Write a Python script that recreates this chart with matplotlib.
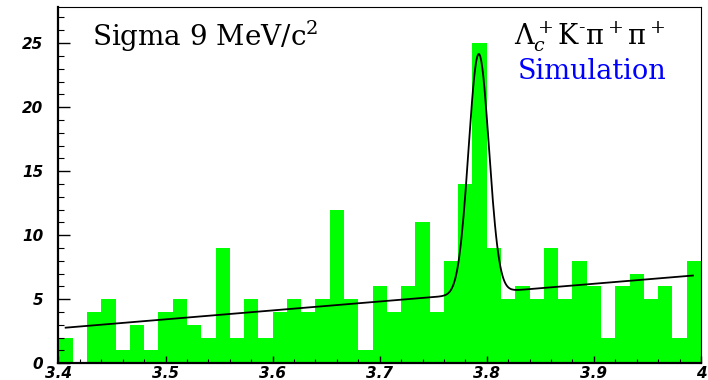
import numpy as np
import matplotlib
matplotlib.use("Agg")
import matplotlib.pyplot as plt
from matplotlib.font_manager import FontProperties

# histogram (45 bins between 3.4 and 4.0 GeV)
counts = [2, 0, 4, 5, 1, 3, 1, 4, 5, 3, 2, 9, 2, 5, 2, 4, 5, 4, 5, 12,
          5, 1, 6, 4, 6, 11, 4, 8, 14, 25, 9, 5, 6, 5, 9, 5, 8, 6, 2, 6,
          7, 5, 6, 2, 8]
x_lo, x_hi = 3.4, 4.0

# fit: linear background + gaussian
fit_lo, fit_hi = 3.4067, 3.9925
bkg_at_lo = 2.78
bkg_slope = 6.95
peak_amp = 18.7
peak_mean = 3.7925
peak_sigma = 0.0095

xtick_vals = [3.4, 3.5, 3.6, 3.7, 3.8, 3.9, 4.0]
xtick_text = ["3.4", "3.5", "3.6", "3.7", "3.8", "3.9", "4"]
ytick_vals = [0, 5, 10, 15, 20, 25]

plt.rcParams["mathtext.fontset"] = "dejavuserif"

fig = plt.figure(figsize=(7.08, 3.80), dpi=100)
ax = fig.add_axes([0.0826, 0.044, 0.9074, 0.937])

edges = np.linspace(x_lo, x_hi, len(counts) + 1)
ax.bar(edges[:-1], counts, width=np.diff(edges), align="edge",
       color="#00ff00", edgecolor="none", zorder=1)

xf = np.linspace(fit_lo, fit_hi, 600)
yf = bkg_at_lo + bkg_slope * (xf - fit_lo) + \
    peak_amp * np.exp(-0.5 * ((xf - peak_mean) / peak_sigma) ** 2)
ax.plot(xf, yf, color="black", lw=1.3, zorder=3)

ax.set_xlim(x_lo, x_hi)
ax.set_ylim(0, 27.8)

ax.set_xticks(xtick_vals)
ax.set_xticklabels(xtick_text)
ax.set_xticks(np.arange(3.4, 4.001, 0.02), minor=True)
ax.set_yticks(ytick_vals)
ax.set_yticks(np.arange(0, 28, 1), minor=True)

tick_font = FontProperties(family="DejaVu Sans", weight="bold", style="oblique", size=11)
for lab in ax.get_xticklabels() + ax.get_yticklabels():
    lab.set_fontproperties(tick_font)

ax.tick_params(axis="y", which="major", direction="in", length=8.6, width=1, pad=11)
ax.tick_params(axis="y", which="minor", direction="in", length=4.3, width=0.8)
ax.tick_params(axis="x", which="major", direction="in", length=5, width=1, pad=2)
ax.tick_params(axis="x", which="minor", direction="in", length=3, width=0.8)

for side in ["left", "bottom"]:
    ax.spines[side].set_linewidth(1.6)
for side in ["top", "right"]:
    ax.spines[side].set_linewidth(0.8)
for sp in ax.spines.values():
    sp.set_zorder(5)

ax.text(91.7, 380 - 46, r"Sigma 9 MeV/c$^2$", transform=None,
        family="DejaVu Serif", fontsize=20, va="baseline", ha="left")
ax.text(665, 380 - 45, r"Λ$_c^+$K$^{\text{-}}$π$^+$π$^+$", transform=None,
        family="DejaVu Serif", fontsize=19.5, va="baseline", ha="right")
ax.text(666.7, 380 - 79, "Simulation", transform=None, color="#0000ff",
        family="DejaVu Serif", fontsize=19.5, va="baseline", ha="right")

fig.savefig("out.png", dpi=100)
